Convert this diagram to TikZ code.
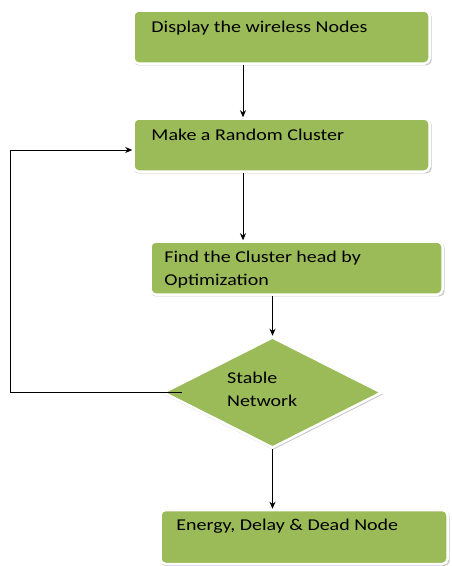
\documentclass[tikz,border=0pt]{standalone}
\usepackage{fontspec}
\setmainfont{Carlito}[FakeStretch=1.21]
\usetikzlibrary{calc,positioning,shapes.geometric,shadows,arrows.meta}
\definecolor{boxgreen}{HTML}{9BBB59}
\tikzset{
  rim/.style={drop shadow={shadow xshift=1pt, shadow yshift=-1.6pt, shadow scale=1.008,
    fill=black!22, opacity=1}},
  stepbox/.style={rectangle, rounded corners=5pt, fill=boxgreen, draw=white,
    line width=2.5pt, inner sep=0pt, rim},
  decbox/.style={diamond, fill=boxgreen, draw=white, line width=2.5pt, inner sep=0pt,
    minimum width=219pt, minimum height=111pt, rim},
  steptext/.style={anchor=base west, inner sep=0pt, align=left,
    font=\fontsize{16.5}{22.5}\selectfont},
  flow/.style={-{Stealth[length=7pt,width=6pt]}, line width=0.8pt}
}
\begin{document}
\begin{tikzpicture}[x=1pt,y=-1pt]
\useasboundingbox (0,0) rectangle (451,566);
% the boxes
\node [stepbox, minimum width=296pt, minimum height=53pt] (show) at (281.5,37) {};
\node [stepbox, minimum width=296pt, minimum height=53pt] (cluster) at (281.5,145) {};
\node [stepbox, minimum width=292pt, minimum height=53pt] (head) at (296.5,268) {};
\node [decbox] (stable) at (272.5,392.5) {};
\node [stepbox, minimum width=287pt, minimum height=54pt] (result) at (304,537) {};
% texts
\node [steptext] (showtxt) at ($(show.north west)+(19,23)$) {Display the wireless Nodes};
\node [steptext] (clustertxt) at ($(cluster.north west)+(19,23)$) {Make a Random Cluster};
\node [steptext] (headtxt) at ($(head.north west)+(15,45)$) {Find the Cluster head by\\Optimization};
\node [steptext] (stabletxt) at (227,406) {Stable\\Network};
\node [steptext] (resulttxt) at ($(result.north west)+(17,22)$) {Energy, Delay \& Dead Node};
% arrows
\draw [flow] (show.south -| 243,0) -- (cluster.north -| 243,0);
\draw [flow] (cluster.south -| 243,0) -- (head.north -| 243,0);
\draw [flow] (head.south -| stable.north) -- (stable.north);
\draw [flow] (stable.south) -- (result.north -| stable.south);
% back to the clustering
\coordinate (loop) at (10,150);
\draw [flow] ($(stable.west)+(20,0)$) -| (loop) -- (loop -| cluster.west);
\end{tikzpicture}
\end{document}
